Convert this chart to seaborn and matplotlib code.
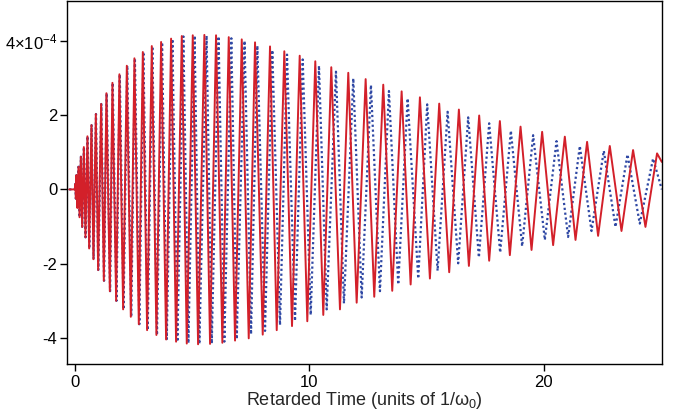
import matplotlib
matplotlib.use("Agg")
import matplotlib.pyplot as plt
import seaborn as sns
import pandas as pd
import numpy as np

# Extrema (peaks / troughs); time in units of 1/omega0, value in 1e-4
red_t = [-0.24, 0.00, 0.026, 0.047, 0.072, 0.111, 0.158, 0.205, 0.260, 0.316, 0.388, 0.456,
         0.541, 0.614, 0.712, 0.797, 0.899, 0.997, 1.125, 1.240, 1.351, 1.496, 1.607, 1.765,
         1.905, 2.063, 2.221, 2.391, 2.545, 2.732, 2.903, 3.086, 3.286, 3.483, 3.683, 3.896,
         4.109, 4.322, 4.565, 4.778, 5.034, 5.260, 5.529, 5.771, 6.027, 6.296, 6.569, 6.837,
         7.123, 7.421, 7.690, 8.018, 8.329, 8.615, 8.939, 9.267, 9.595, 9.919, 10.260, 10.601,
         10.942, 11.313, 11.667, 12.025, 12.408, 12.775, 13.159, 13.542, 13.943, 14.327, 14.723,
         15.149, 15.546, 15.972, 16.385, 16.812, 17.251, 17.677, 18.133, 18.559, 19.015, 19.484,
         19.936, 20.405, 20.904, 21.360, 21.854, 22.323, 22.822, 23.321, 23.815, 24.343, 24.838,
         25.04]
red_v = [0.0, 0.0, 0.15, -0.25, 0.385, -0.50, 0.61, -0.75, 0.88, -1.01, 1.14, -1.29,
         1.43, -1.59, 1.73, -1.88, 2.03, -2.17, 2.30, -2.46, 2.59, -2.74, 2.87, -3.00,
         3.10, -3.23, 3.33, -3.43, 3.53, -3.63, 3.70, -3.79, 3.86, -3.92, 3.97, -4.04,
         4.06, -4.10, 4.13, -4.15, 4.15, -4.17, 4.16, -4.16, 4.15, -4.13, 4.10, -4.07,
         4.04, -4.01, 3.96, -3.91, 3.85, -3.79, 3.72, -3.68, 3.60, -3.55, 3.45, -3.38,
         3.29, -3.23, 3.14, -3.05, 2.97, -2.89, 2.82, -2.73, 2.64, -2.56, 2.48,
         -2.40, 2.31, -2.23, 2.15, -2.06, 1.99, -1.92, 1.84, -1.77, 1.69, -1.63,
         1.55, -1.50, 1.42, -1.36, 1.28, -1.25, 1.17, -1.12, 1.06, -1.01, 0.97,
         0.74]

blue_t = [-0.24, 0.00, 0.027, 0.048, 0.073, 0.112, 0.160, 0.207, 0.262, 0.319, 0.391, 0.460,
          0.545, 0.619, 0.718, 0.803, 0.906, 1.005, 1.134, 1.250, 1.362, 1.508, 1.620, 1.780,
          1.921, 2.080, 2.240, 2.410, 2.566, 2.755, 2.928, 3.112, 3.310, 3.508, 3.725, 3.925,
          4.165, 4.378, 4.633, 4.847, 5.111, 5.315, 5.622, 5.844, 6.134, 6.381, 6.679, 6.910,
          7.242, 7.519, 7.788, 8.116, 8.427, 8.755, 9.054, 9.395, 9.723, 10.064, 10.418, 10.746,
          11.142, 11.483, 11.880, 12.238, 12.634, 13.018, 13.402, 13.798, 14.199, 14.651, 15.034,
          15.477, 15.904, 16.355, 16.782, 17.238, 17.677, 18.146, 18.602, 19.083, 19.552, 20.051,
          20.550, 21.044, 21.543, 22.042, 22.566, 23.065, 23.576, 24.101, 24.668, 25.04]
blue_v = [0.0, 0.0, 0.15, -0.25, 0.385, -0.50, 0.61, -0.75, 0.88, -1.01, 1.14, -1.29,
          1.43, -1.59, 1.73, -1.88, 2.03, -2.17, 2.30, -2.46, 2.59, -2.74, 2.87, -3.00,
          3.10, -3.23, 3.33, -3.43, 3.53, -3.63, 3.70, -3.79, 3.85, -3.92, 3.96, -4.03,
          4.05, -4.10, 4.12, -4.14, 4.14, -4.16, 4.14, -4.15, 4.12, -4.10, 4.07, -4.03,
          4.00, -3.90, 3.87, -3.81, 3.75, -3.65, 3.63, -3.54, 3.50, -3.38, 3.33, -3.23,
          3.17, -3.07, 2.99, -2.91, 2.81, -2.74, 2.65, -2.56, 2.45, -2.40, 2.29,
          -2.19, 2.09, -1.99, 1.94, -1.83, 1.78, -1.70, 1.58, -1.53, 1.46, -1.36,
          1.30, -1.28, 1.17, -1.12, 1.04, -1.01, 0.94, -0.92, 0.83, 0.0]

x_ticks = [0, 10, 20]
y_ticks = [-4, -2, 0, 2, 4]
y_tick_labels = ["-4", "-2", "0", "2", r"4×10$^{-4}$"]
scale = 1e-4

sns.set_style("ticks")
plt.rcParams['font.family'] = ['Liberation Sans', 'DejaVu Sans']
plt.rcParams['mathtext.default'] = 'regular'
plt.rcParams['axes.unicode_minus'] = False

fig = plt.figure(figsize=(6.79, 4.16), dpi=100)
ax = fig.add_axes([0.0987, 0.126, 0.8763, 0.8704])

df_blue = pd.DataFrame({"t": blue_t, "v": np.array(blue_v) * scale})
df_red = pd.DataFrame({"t": red_t, "v": np.array(red_v) * scale})

sns.lineplot(data=df_blue, x="t", y="v", ax=ax, sort=False, estimator=None,
             color="#2f48a4", linewidth=1.6, linestyle=(0, (1, 1.2)))
sns.lineplot(data=df_red, x="t", y="v", ax=ax, sort=False, estimator=None,
             color="#d3202a", linewidth=1.4)

ax.set_xlim(-0.33, 25.05)
ax.set_ylim(-4.69e-4, 5.06e-4)
ax.set_xticks(x_ticks)
ax.set_xticklabels([str(v) for v in x_ticks])
ax.set_yticks([v * scale for v in y_ticks])
ax.set_yticklabels(y_tick_labels)
ax.set_xlabel("Retarded Time (units of 1/ω$_0$)", fontsize=13, labelpad=0)
ax.set_ylabel("")
for s in ax.spines.values():
    s.set_visible(True)
    s.set_linewidth(1.0)
    s.set_color("black")
ax.tick_params(axis='both', direction='out', length=5, width=1, labelsize=12, colors='black')
ax.tick_params(axis='x', pad=3)
ax.tick_params(axis='y', pad=2)

fig.savefig("out.png", dpi=100)
